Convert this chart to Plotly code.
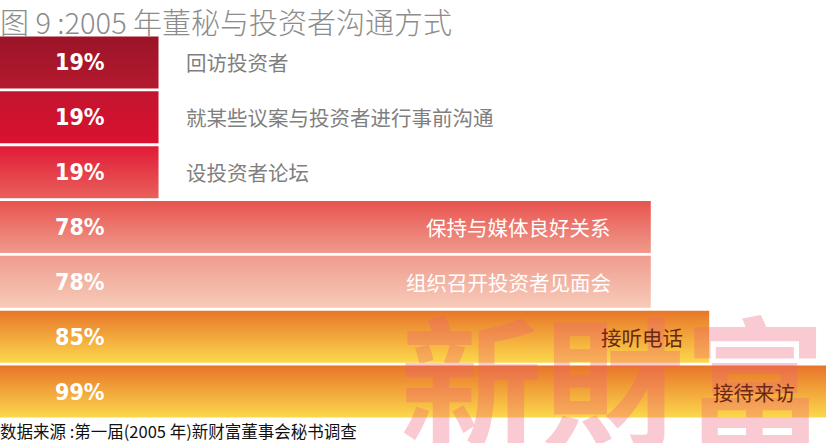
import plotly.graph_objects as go

# ---- data ----
categories = ["回访投资者", "就某些议案与投资者进行事前沟通", "设投资者论坛",
              "保持与媒体良好关系", "组织召开投资者见面会", "接听电话", "接待来访"]
values = [19, 19, 19, 78, 78, 85, 99]
pct_labels = ["19%", "19%", "19%", "78%", "78%", "85%", "99%"]
title_text = "图 9 :2005 年董秘与投资者沟通方式"
source_text = "数据来源 :第一届(2005 年)新财富董事会秘书调查"
watermark_text = "新財富"

# ---- styles ----
top_colors = ["#9b1428", "#c2152f", "#e01b36", "#e8544f", "#ef9c8f", "#e8762a", "#e8742a"]
bottom_colors = ["#b4192e", "#da112f", "#e9605c", "#f09a8c", "#f7cbb8", "#fcd84c", "#fcd84c"]
label_colors = ["#7f7f7f", "#7f7f7f", "#7f7f7f", "#ffffff", "#ffffff", "#6b2810", "#6b2810"]
label_shift = [25, 25, 25, -38, -38, -24, -29]

W, H = 826, 443
mt, mb = 35, 24
ph = H - mt - mb
n = len(values)
half = 0.474

fig = go.Figure()
for i, v in enumerate(values):
    yc = n - 1 - i
    fig.add_trace(go.Scatter(
        x=[0, v, v, 0, 0],
        y=[yc - half, yc - half, yc + half, yc + half, yc - half],
        mode="lines", line=dict(width=0), fill="toself",
        fillgradient=dict(type="vertical",
                          colorscale=[[0, bottom_colors[i]], [1, top_colors[i]]]),
        hoverinfo="skip", showlegend=False,
    ))

ann = []
# watermark
ann.append(dict(text=watermark_text, xref="paper", yref="paper",
                x=398 / W, y=(H - mb - 376) / ph, xanchor="left", yanchor="middle",
                showarrow=False,
                font=dict(family="Noto Sans CJK TC", size=142, color="rgba(236,100,120,0.34)",
                          weight="bold")))
for i, v in enumerate(values):
    yc = n - 1 - i
    ann.append(dict(text=pct_labels[i], xref="paper", yref="y", x=80 / W, y=yc,
                    xanchor="center", yanchor="middle", showarrow=False,
                    font=dict(family="DejaVu Sans Condensed", size=23, color="white",
                              weight="bold")))
    inside = v > 50
    ann.append(dict(text=categories[i], xref="x", yref="y", x=v, y=yc,
                    xanchor="right" if inside else "left", yanchor="middle",
                    xshift=label_shift[i], showarrow=False,
                    font=dict(family="Noto Sans CJK SC", size=20.5, color=label_colors[i])))
ann.append(dict(text=title_text, xref="paper", yref="paper", x=0, y=(H - mb + 2) / ph,
                xanchor="left", yanchor="top", showarrow=False, xshift=-2,
                font=dict(family="Noto Sans CJK SC", size=29, color="#8c8c8c", weight=300)))
ann.append(dict(text=source_text, xref="paper", yref="paper", x=0, y=(H - mb - 445) / ph,
                xanchor="left", yanchor="bottom", showarrow=False, xshift=-2,
                font=dict(family="Noto Sans CJK SC", size=16.5, color="#111111")))

fig.update_layout(
    width=W, height=H, margin=dict(l=0, r=0, t=mt, b=mb),
    paper_bgcolor="white", plot_bgcolor="white",
    xaxis=dict(range=[0, 99], visible=False, fixedrange=True),
    yaxis=dict(range=[-0.5, n - 0.5], visible=False, fixedrange=True),
    annotations=ann, showlegend=False,
)
fig.write_html("out.html", config={"displayModeBar": False},
               post_script="document.body.style.margin='0';document.body.style.overflow='hidden';")
